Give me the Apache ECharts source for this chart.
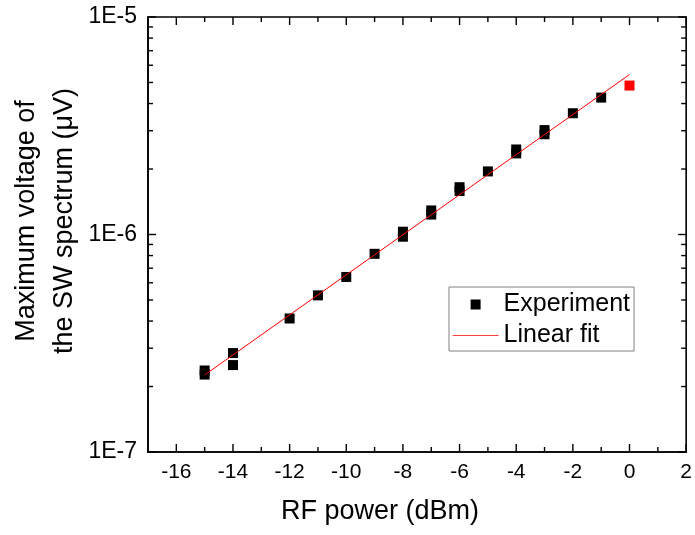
<!DOCTYPE html>
<html>
<head>
<meta charset="utf-8">
<script src="https://cdn.jsdelivr.net/npm/echarts@6/dist/echarts.min.js"></script>
<style>
html,body{margin:0;padding:0;background:#fff;}
#chart{width:695px;height:535px;}
</style>
</head>
<body>
<div id="chart"></div>
<script>
// ---- data ----
var expX = [-15, -15, -14, -14, -12, -11, -10, -9, -8, -8, -7, -7, -6, -6, -5, -4, -4, -3, -3, -2, -1, 0];
var expY = [2.37e-7, 2.27e-7, 2.85e-7, 2.51e-7, 4.11e-7, 5.25e-7, 6.38e-7, 8.15e-7, 1.03e-6, 0.977e-6,
            1.29e-6, 1.235e-6, 1.65e-6, 1.585e-6, 1.95e-6, 2.46e-6, 2.36e-6, 3.02e-6, 2.89e-6, 3.61e-6, 4.26e-6, 4.84e-6];
var highlightX = [0];
var fitX = [-15, 0];
var fitY = [2.26e-7, 5.44e-6];
var xRange = [-17, 2];
var yRange = [1e-7, 1e-5];
var xMajorTicks = [-16, -14, -12, -10, -8, -6, -4, -2, 0, 2];
var xMinorTicks = [-15, -13, -11, -9, -7, -5, -3, -1, 1];
var yMajorTicks = [1e-7, 1e-6, 1e-5];
var yMinorTicks = [2e-7, 3e-7, 4e-7, 5e-7, 6e-7, 7e-7, 8e-7, 9e-7, 2e-6, 3e-6, 4e-6, 5e-6, 6e-6, 7e-6, 8e-6, 9e-6];
var yTickLabels = ['1E-7', '1E-6', '1E-5'];
var xTitle = 'RF power (dBm)';
var yTitle = 'Maximum voltage of\nthe SW spectrum (\u03bcV)';

// ---- chart ----
var FONT = "'Liberation Sans', Arial, sans-serif";
var chart = echarts.init(document.getElementById('chart'), null, {renderer: 'canvas'});

var expData = expX.map(function (x, i) {
  var item = {value: [x, expY[i]]};
  if (highlightX.indexOf(x) >= 0) item.itemStyle = {color: '#ff0000', opacity: 1};
  return item;
});
var fitData = fitX.map(function (x, i) { return [x, fitY[i]]; });

// tick marks: [x, y, kind]  kind 0=x major, 1=x minor, 2=y major, 3=y minor
var tickData = [];
xMajorTicks.forEach(function (v) { tickData.push([v, yRange[0], 0]); });
xMinorTicks.forEach(function (v) { tickData.push([v, yRange[0], 1]); });
yMajorTicks.forEach(function (v) { tickData.push([xRange[0], v, 2]); });
yMinorTicks.forEach(function (v) { tickData.push([xRange[0], v, 3]); });

function renderTick(params, api) {
  var kind = api.value(2);
  var st = {stroke: '#000', lineWidth: 1.4};
  var L = (kind === 0 || kind === 2) ? 8 : 5;
  var a, b;
  if (kind < 2) {
    var xv = api.value(0);
    a = api.coord([xv, yRange[0]]);
    b = api.coord([xv, yRange[1]]);
    return {type: 'group', children: [
      {type: 'line', shape: {x1: a[0], y1: a[1], x2: a[0], y2: a[1] - L}, style: st},
      {type: 'line', shape: {x1: b[0], y1: b[1], x2: b[0], y2: b[1] + L}, style: st}
    ]};
  } else {
    var yv = api.value(1);
    a = api.coord([xRange[0], yv]);
    b = api.coord([xRange[1], yv]);
    return {type: 'group', children: [
      {type: 'line', shape: {x1: a[0], y1: a[1], x2: a[0] + L, y2: a[1]}, style: st},
      {type: 'line', shape: {x1: b[0], y1: b[1], x2: b[0] - L, y2: b[1]}, style: st}
    ]};
  }
}

var option = {
  animation: false,
  backgroundColor: '#fff',
  textStyle: {fontFamily: FONT},
  grid: {left: 148, right: 7, top: 17, bottom: 83, containLabel: false,
         show: true, borderColor: '#000', borderWidth: 1.6, backgroundColor: 'transparent'},
  xAxis: {
    type: 'value', min: xRange[0], max: xRange[1],
    axisLine: {show: true, onZero: false, lineStyle: {color: '#000', width: 1.6}},
    axisTick: {show: false},
    axisLabel: {show: true, customValues: xMajorTicks, fontSize: 21, color: '#000', fontFamily: FONT, margin: 10},
    splitLine: {show: false}
  },
  yAxis: {
    type: 'log', logBase: 10, min: yRange[0], max: yRange[1],
    axisLine: {show: true, onZero: false, lineStyle: {color: '#000', width: 1.6}},
    axisTick: {show: false},
    axisLabel: {
      show: true, fontSize: 23, color: '#000', fontFamily: FONT, margin: 11,
      formatter: function (v) {
        var i = yMajorTicks.findIndex(function (t) { return Math.abs(Math.log10(t) - Math.log10(v)) < 1e-6; });
        return i >= 0 ? yTickLabels[i] : '';
      }
    },
    splitLine: {show: false}
  },
  legend: {
    orient: 'vertical', left: 449, top: 287,
    data: [
      {name: 'Experiment', icon: 'path://M0,0L10,0L10,10L0,10Z'},
      {name: 'Linear fit', itemStyle: {opacity: 0}, lineStyle: {color: '#ff4040', width: 1.2, opacity: 1}}
    ],
    lineStyle: {color: '#ff4040', width: 1.2},
    borderColor: '#808080', borderWidth: 1, borderRadius: 0,
    padding: [5, 4, 3, 3], itemGap: 6, itemWidth: 46, itemHeight: 10,
    symbolKeepAspect: true,
    textStyle: {fontSize: 25, color: '#000', fontFamily: FONT}
  },
  graphic: [
    {type: 'text', x: 380, y: 512, silent: true,
     style: {text: xTitle, font: "27px 'Liberation Sans', Arial, sans-serif", fill: '#000',
             textAlign: 'center', textVerticalAlign: 'middle', align: 'center', verticalAlign: 'middle'}},
    {type: 'text', x: 46, y: 221, rotation: Math.PI / 2, silent: true,
     style: {text: yTitle, font: "27px 'Liberation Sans', Arial, sans-serif", fill: '#000', lineHeight: 38,
             textAlign: 'center', textVerticalAlign: 'middle', align: 'center', verticalAlign: 'middle'}}
  ],
  series: [
    {name: 'Experiment', type: 'scatter',
     symbol: 'rect', symbolSize: 10, itemStyle: {color: '#000', opacity: 1},
     data: expData, z: 2},
    {name: 'Linear fit', type: 'line',
     symbol: 'none', showSymbol: false, lineStyle: {color: '#ff0000', width: 1}, itemStyle: {color: '#ff0000'},
     data: fitData, z: 3},
    {name: 'ticks', type: 'custom', renderItem: renderTick, data: tickData, clip: false, silent: true, z: 4}
  ]
};
chart.setOption(option);
</script>
</body>
</html>
